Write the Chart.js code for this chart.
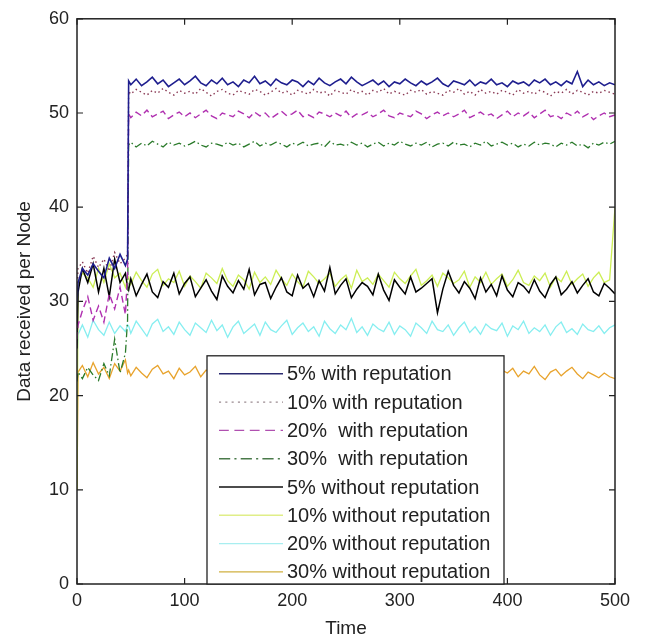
<!DOCTYPE html>
<html><head><meta charset="utf-8">
<script src="https://cdn.jsdelivr.net/npm/chart.js@4.4.1/dist/chart.umd.min.js"></script>
<style>html,body{margin:0;padding:0;background:#fff;}#c{display:block;}</style>
</head><body>
<canvas id="c" width="657" height="639"></canvas>
<script>
const times = [0,1,5,10,15,20,25,30,35,40,45,47,48,
50,55,60,65,70,75,80,85,90,95,100,105,110,115,120,125,130,135,140,145,150,155,160,165,170,175,180,185,190,195,
200,205,210,215,220,225,230,235,240,245,250,255,260,265,270,275,280,285,290,295,300,305,310,315,320,325,330,335,340,345,
350,355,360,365,370,375,380,385,390,395,400,405,410,415,420,425,430,435,440,445,450,455,460,465,470,475,480,485,490,495,500];

const seriesNames = ["5% with reputation","10% with reputation","20%  with reputation","30%  with reputation",
"5% without reputation","10% without reputation","20% without reputation","30% without reputation"];

const with5 = [30,32,33.5,32.8,34,33.2,32.5,34.6,33.5,35,33.8,34.5,
53.4,53.0,53.6,52.9,53.3,53.8,53.1,53.5,52.8,53.2,
53.6,53.0,53.4,53.9,53.2,52.9,53.5,53.1,53.7,53.0,
53.3,52.8,53.5,53.2,53.9,53.1,53.4,52.9,53.6,53.2,
53.0,53.5,53.3,52.8,53.4,53.0,53.7,53.2,52.9,53.3,
53.6,53.1,53.8,53.3,52.9,53.2,53.5,53.0,53.4,52.8,
53.3,53.1,53.6,53.2,52.9,53.4,53.0,53.3,53.7,53.1,
52.8,53.4,53.2,53.0,53.5,52.9,53.3,53.1,53.6,53.0,
53.2,52.8,53.4,53.1,53.3,52.9,53.5,53.2,53.6,53.0,
53.3,52.9,53.4,53.1,54.4,52.8,53.5,53.0,53.3,52.9,
53.2,53.0];

const with10 = [31,33.5,34.2,33,34.8,33.6,34.5,33.2,35.2,34,34.6,35,
52.3,52.0,52.5,52.2,51.9,52.4,52.1,52.6,52.2,51.9,
52.4,52.1,52.3,52.0,52.6,52.2,51.8,52.3,52.5,52.1,
51.9,52.4,52.2,52.0,52.5,52.3,51.9,52.2,52.6,52.1,
52.3,51.9,52.4,52.2,52.0,52.5,52.1,52.3,51.8,52.4,
52.2,52.0,52.5,52.1,52.3,51.9,52.4,52.2,52.6,52.0,
52.3,52.1,51.9,52.4,52.2,52.5,52.0,52.3,52.1,51.9,
52.4,52.2,52.6,52.0,52.3,51.9,52.5,52.1,52.3,52.0,
52.4,52.2,51.9,52.5,52.1,52.3,52.0,52.4,52.2,51.8,
52.3,52.1,52.5,52.0,52.4,52.2,51.9,52.3,52.1,52.4,
52.2,52.0];

const with20 = [26,27.5,29,30.5,28,29.5,27.8,30.8,29.2,31.5,28.6,33,
49.9,49.5,50.1,49.7,50.3,49.6,49.9,50.2,49.4,49.8,
50.1,49.6,50.0,49.5,49.9,50.3,49.7,49.4,50.0,49.8,
49.6,50.2,49.9,49.5,50.1,49.7,50.0,49.4,49.8,50.2,
49.7,49.9,50.3,49.6,49.8,49.5,50.1,49.9,49.6,50.0,
49.7,50.2,49.5,49.9,49.8,50.1,49.6,49.9,50.3,49.7,
49.5,50.0,49.8,49.6,50.2,49.9,49.4,49.8,50.1,49.7,
50.0,49.6,49.9,50.3,49.5,49.8,50.1,49.7,49.9,49.4,
49.8,50.2,49.6,50.0,49.7,50.1,49.5,49.9,50.3,49.6,
49.8,49.4,50.0,49.7,50.2,49.6,49.9,49.3,49.7,50.0,
49.6,49.8];

const with30 = [21.5,22.5,21.8,23,22.2,21.6,23.4,22.1,26,22.4,24.5,28,
46.6,46.9,46.4,46.8,46.5,47.0,46.7,46.4,46.9,46.6,
46.8,46.5,46.7,47.0,46.6,46.4,46.8,46.7,46.5,46.9,
46.6,46.8,46.4,46.7,47.0,46.5,46.8,46.6,46.9,46.7,
46.4,46.8,46.6,46.9,46.5,46.7,46.8,46.4,47.0,46.6,
46.7,46.5,46.9,46.6,46.8,46.4,46.7,46.9,46.5,46.8,
46.6,47.0,46.7,46.5,46.8,46.6,46.9,46.4,46.7,46.8,
46.5,46.9,46.6,46.7,46.4,46.8,46.6,47.0,46.5,46.7,
46.9,46.6,46.8,46.4,46.7,46.5,46.9,46.6,46.8,46.7,
46.4,46.8,46.6,46.9,46.5,46.7,46.3,46.8,46.6,46.9,
46.7,47.0];

const without5 = [25,31,33.5,32,34,31,33.5,30.5,34.5,32,33,31.5,
31.2,32.4,30.6,31.8,32.9,31.0,30.4,32.1,31.5,33.0,
30.8,31.9,32.6,30.5,31.4,32.3,31.1,30.2,32.7,31.6,
30.9,32.2,31.3,33.4,30.7,31.8,32.0,30.3,31.5,32.5,
31.0,30.6,32.8,31.4,31.9,30.5,32.2,31.1,33.6,30.8,
31.7,32.4,30.4,31.3,32.0,31.6,30.7,32.9,31.2,30.1,
32.3,31.5,30.8,32.6,31.0,31.4,31.9,32.4,28.8,31.3,
33.2,31.7,30.9,32.1,31.4,30.3,32.5,31.0,31.8,30.6,
32.7,31.2,30.5,32.0,31.6,30.9,32.3,31.1,30.4,31.8,
32.6,30.7,31.3,32.1,30.9,31.7,32.4,31.0,30.6,31.9,
31.4,30.8];

const without10 = [10,32,33,32.5,31.5,33.5,32,34,32.5,33,31.5,32.5,
32.6,31.8,33.1,32.2,31.5,32.9,33.4,31.7,32.4,32.0,
33.2,31.6,32.7,32.1,31.4,33.0,32.5,31.9,33.5,32.2,
31.6,32.8,32.3,31.3,33.1,32.0,32.6,31.8,33.3,32.4,
31.7,32.9,32.1,31.5,33.2,32.6,31.9,32.4,33.0,31.6,
32.3,32.8,31.4,33.3,32.1,32.5,31.8,32.9,32.2,31.5,
33.1,32.4,31.9,32.7,33.4,31.7,32.2,32.8,31.6,33.0,
32.5,31.9,32.3,33.2,31.5,32.6,32.0,33.1,31.8,32.4,
32.9,31.6,32.3,33.3,32.0,31.7,32.7,32.2,33.0,31.5,
32.6,32.1,33.2,31.8,32.4,32.9,31.6,32.5,33.1,32.0,
32.3,40.0];

const without20 = [24,26.5,27.5,26.2,28,27,26.4,27.8,26.6,27.4,26.8,27.5,
27.4,26.6,27.9,27.1,26.3,27.6,28.1,26.8,27.3,26.5,
27.8,27.0,26.4,27.7,27.2,26.7,28.0,26.9,27.5,26.2,
27.3,27.9,26.6,27.1,27.6,26.4,27.8,27.0,26.7,27.4,
28.0,26.5,27.2,27.7,26.8,27.3,26.3,27.9,27.1,26.6,
27.5,27.0,28.2,26.7,27.3,26.4,27.6,27.1,26.8,27.8,
26.5,27.4,27.0,26.3,27.7,27.2,26.6,27.9,27.0,26.8,
27.5,26.4,27.2,27.8,26.7,27.3,26.5,27.6,27.1,26.9,
27.7,26.3,27.4,27.0,27.9,26.6,27.2,26.8,27.5,26.4,
27.3,27.8,26.7,27.1,26.5,27.6,27.0,26.8,27.4,26.6,
27.2,27.5];

const without30 = [10,22.5,23.2,22,23.5,22.3,23,21.8,23.4,22.6,23.8,22.4,
22.7,22.1,23.0,22.4,21.9,22.8,23.2,22.3,22.6,21.8,
22.9,22.2,22.5,23.1,22.0,22.7,22.4,21.8,22.9,22.6,
22.2,23.0,22.5,21.9,22.8,22.3,22.7,22.0,23.1,22.4,
22.6,21.9,22.8,22.2,23.0,22.5,22.1,22.7,22.4,21.8,
22.9,22.3,22.6,23.1,22.0,22.5,22.8,22.2,21.9,22.7,
22.4,23.0,22.1,22.6,22.3,22.9,21.8,22.5,22.7,22.2,
23.0,22.4,21.9,22.6,22.8,22.1,22.5,23.2,22.3,21.8,
22.7,22.4,22.9,22.0,22.6,22.3,23.1,22.2,21.7,22.5,
22.8,22.1,22.6,23.0,22.3,21.8,22.5,22.2,21.9,22.4,
22.0,21.8];

const xTicks = [0,100,200,300,400,500];
const yTicks = [0,10,20,30,40,50,60];

const seriesValues = [with5,with10,with20,with30,without5,without10,without20,without30];
const colors = ['#1e1e8e','#8a3a55','#b030b0','#2a7a2a','#000000','#ccee55','#86eef0','#e8a32c'];
const legendColors = ['#2a2a70','#9a8a90','#b050b0','#4a7a4a','#111111','#e0ee88','#a8eef0','#d0b040'];
const dashes = [[],[1.5,3],[7,4],[8,3,1.5,3],[],[],[],[]];
const widths = [1.6,1.4,1.4,1.3,1.5,1.3,1.3,1.3];

const datasets = seriesValues.map((vals,i)=>({
  label: seriesNames[i],
  data: vals.map((v,k)=>({x:times[k], y:v})),
  borderColor: colors[i],
  borderWidth: widths[i],
  borderDash: dashes[i],
  pointRadius: 0,
  tension: 0,
  fill: false
}));

const frame = {
  id:'frame',
  afterDatasetsDraw(chart){
    const {ctx, chartArea:a, scales:{x,y}} = chart;
    ctx.save();
    ctx.strokeStyle='#222';
    ctx.lineWidth=1.5;
    ctx.strokeRect(a.left,a.top,a.right-a.left,a.bottom-a.top);
    ctx.lineWidth=1.2;
    const L=6;
    ctx.beginPath();
    xTicks.forEach(v=>{const p=x.getPixelForValue(v);
      ctx.moveTo(p,a.bottom);ctx.lineTo(p,a.bottom-L);
      ctx.moveTo(p,a.top);ctx.lineTo(p,a.top+L);});
    yTicks.forEach(v=>{const p=y.getPixelForValue(v);
      ctx.moveTo(a.left,p);ctx.lineTo(a.left+L,p);
      ctx.moveTo(a.right,p);ctx.lineTo(a.right-L,p);});
    ctx.stroke();
    // legend
    const lx=a.left+130, ly=a.top+337, lw=297, lh=a.bottom-ly;
    ctx.fillStyle='#fff';
    ctx.fillRect(lx,ly,lw,lh);
    ctx.strokeStyle='#222';ctx.lineWidth=1.3;
    ctx.strokeRect(lx,ly,lw,lh);
    ctx.font='20px "Liberation Sans", Arial, sans-serif';
    ctx.textBaseline='middle';ctx.textAlign='left';
    seriesNames.forEach((n,i)=>{
      const ry=ly+18+i*28.3;
      ctx.beginPath();
      ctx.setLineDash(dashes[i].map(d=>d*1.4));
      ctx.strokeStyle=legendColors[i];ctx.lineWidth=1.4;
      ctx.moveTo(lx+12,ry);ctx.lineTo(lx+76,ry);ctx.stroke();
      ctx.setLineDash([]);
      ctx.fillStyle='#222';
      ctx.fillText(n,lx+80,ry+1);
    });
    ctx.restore();
  }
};

new Chart(document.getElementById('c'),{
  type:'line',
  data:{datasets},
  options:{
    responsive:false,
    animation:false,
    events:[],
    layout:{padding:{top:15,right:42,left:0,bottom:0}},
    plugins:{legend:{display:false},tooltip:{enabled:false}},
    scales:{
      x:{type:'linear',min:0,max:500,
        afterFit(s){s.height=55;},
        afterBuildTicks(s){s.ticks=xTicks.map(v=>({value:v}));},
        grid:{display:false,drawTicks:false},
        border:{display:false},
        ticks:{padding:6,color:'#222',font:{family:'"Liberation Sans", Arial, sans-serif',size:18},maxRotation:0},
        title:{display:true,text:'Time',color:'#222',padding:{top:0,bottom:0},font:{family:'"Liberation Sans", Arial, sans-serif',size:19,lineHeight:1.1}}
      },
      y:{type:'linear',min:0,max:60,
        afterFit(s){s.width=77;},
        afterBuildTicks(s){s.ticks=yTicks.map(v=>({value:v}));},
        grid:{display:false,drawTicks:false},
        border:{display:false},
        ticks:{padding:8,color:'#222',font:{family:'"Liberation Sans", Arial, sans-serif',size:18}},
        title:{display:true,text:'Data received per Node',color:'#222',padding:{top:15,bottom:0},font:{family:'"Liberation Sans", Arial, sans-serif',size:19,lineHeight:1}}
      }
    }
  },
  plugins:[frame]
});
</script>
</body></html>
